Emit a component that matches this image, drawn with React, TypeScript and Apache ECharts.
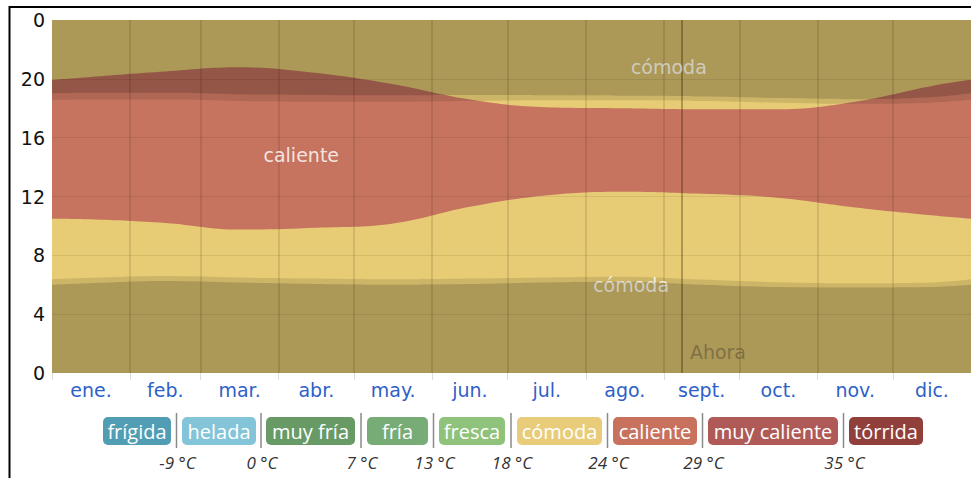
import React, { useEffect, useRef } from 'react';
import * as echarts from 'echarts';

// ---- data ----
const MONTHS = ['ene.', 'feb.', 'mar.', 'abr.', 'may.', 'jun.', 'jul.', 'ago.', 'sept.', 'oct.', 'nov.', 'dic.'];
const MONTH_STARTS = [0, 31, 59, 90, 120, 151, 181, 212, 243, 273, 304, 334, 365];
const MONTH_MIDS = MONTH_STARTS.slice(0, -1).map((s, i) => (s + MONTH_STARTS[i + 1]) / 2);

const DAYS = [0, 15, 45, 74, 105, 135, 166, 196, 227, 258, 288, 319, 349, 365];
// hour at which "cómoda" turns "caliente" in the morning
const HOT_START = [10.49, 10.45, 10.2, 9.75, 9.88, 10.15, 11.3, 12.07, 12.32, 12.18, 11.92, 11.26, 10.73, 10.49];
// hour at which "caliente" turns back to "cómoda" in the evening
const HOT_END = [19.93, 20.13, 20.5, 20.78, 20.4, 19.65, 18.6, 18.07, 18.0, 17.93, 17.93, 18.45, 19.5, 19.93];
// full day is "cómoda" outside the hot hours
const DAY_END = [24, 24, 24, 24, 24, 24, 24, 24, 24, 24, 24, 24, 24, 24];
// twilight / daylight hours
const DAWN = [6.0, 6.1, 6.25, 6.15, 6.05, 6.0, 6.05, 6.15, 6.2, 6.0, 5.85, 5.82, 5.85, 6.0];
const SUNRISE = [6.37, 6.47, 6.6, 6.5, 6.42, 6.37, 6.42, 6.5, 6.55, 6.35, 6.17, 6.1, 6.15, 6.37];
const SUNSET = [18.57, 18.6, 18.6, 18.5, 18.45, 18.45, 18.5, 18.55, 18.55, 18.5, 18.38, 18.3, 18.38, 18.57];
const DUSK = [19.02, 19.05, 19.05, 18.95, 18.9, 18.88, 18.9, 18.88, 18.85, 18.8, 18.7, 18.62, 18.75, 19.02];

const NOW_DAY = 250;

const LEGEND_NAMES = ['frígida', 'helada', 'muy fría', 'fría', 'fresca', 'cómoda', 'caliente', 'muy caliente', 'tórrida'];
const LEGEND_COLORS = ['#519db3', '#83c4d8', '#689a66', '#77ac77', '#8fc27b', '#e8cc79', '#c8725e', '#b05a58', '#913f3b'];
const THRESHOLDS = ['-9 °C', '0 °C', '7 °C', '13 °C', '18 °C', '24 °C', '29 °C', '35 °C'];

// ---- layout / styles ----
const LEGEND_BOXES = [[103, 171], [182, 256], [266, 355], [367, 428], [439, 505], [517, 602], [613, 697], [708, 838], [849, 923]];
const COMODA = '#e7cc75';
const CALIENTE = '#c6745f';
const TWILIGHT = 'rgba(0,0,0,0.11)';
const NIGHT_EXTRA = 'rgba(0,0,0,0.155)'; // stacked over twilight -> ~0.25 total

function area(name: string, values: number[], color: string, origin: 'start' | 'end', z: number) {
  return {
    type: 'line',
    name,
    smooth: 0.4,
    symbol: 'none',
    silent: true,
    z,
    lineStyle: { width: 0 },
    areaStyle: { color, opacity: 1, origin },
    data: DAYS.map((d, i) => [d, values[i]]),
  };
}

export default function App() {
  const ref = useRef<HTMLDivElement>(null);
  useEffect(() => {
    document.body.style.margin = '0';
    const chart = echarts.init(ref.current!, null, { renderer: 'svg' });

    const legendGraphics: any[] = [];
    LEGEND_NAMES.forEach((n, i) => {
      const [x0, x1] = LEGEND_BOXES[i];
      legendGraphics.push({
        type: 'rect',
        shape: { x: x0, y: 417, width: x1 - x0, height: 28, r: 5 },
        style: { fill: LEGEND_COLORS[i] },
      });
      legendGraphics.push({
        type: 'text',
        x: (x0 + x1) / 2,
        y: 431,
        style: {
          text: n,
          fill: '#ffffff',
          font: '20px "Open Sans"',
          align: 'center',
          verticalAlign: 'middle',
        },
      });
    });
    THRESHOLDS.forEach((t, i) => {
      const sx = (LEGEND_BOXES[i][1] + LEGEND_BOXES[i + 1][0]) / 2;
      legendGraphics.push({
        type: 'line',
        shape: { x1: sx, y1: 413, x2: sx, y2: 448 },
        style: { stroke: '#8a8a8a', lineWidth: 1.5 },
      });
      legendGraphics.push({
        type: 'text',
        x: sx + 1,
        y: 462,
        style: {
          text: t,
          fill: '#333333',
          font: 'italic 17px "Open Sans"',
          align: 'center',
          verticalAlign: 'middle',
        },
      });
    });

    const labelFont = 'DejaVu Sans';

    chart.setOption({
      animation: false,
      backgroundColor: '#ffffff',
      grid: { left: 52, right: 0, top: 20, bottom: 105, containLabel: false },
      xAxis: {
        type: 'value',
        min: 0,
        max: 365,
        axisLine: { show: false },
        axisTick: { show: true, customValues: MONTH_STARTS, length: 7, lineStyle: { color: '#dddddd', width: 1 } },
        axisLabel: {
          customValues: MONTH_MIDS,
          formatter: (v: number) => {
            let best = 0;
            MONTH_MIDS.forEach((m, i) => {
              if (Math.abs(m - v) < Math.abs(MONTH_MIDS[best] - v)) best = i;
            });
            return MONTHS[best];
          },
          color: '#2f5fc8',
          fontSize: 19,
          fontFamily: labelFont,
          margin: 7,
        },
        splitLine: { show: false },
      },
      yAxis: {
        type: 'value',
        min: 0,
        max: 24,
        interval: 4,
        z: 9,
        axisLine: { show: false },
        axisTick: { show: false },
        axisLabel: {
          formatter: (v: number) => (v === 24 ? '0' : String(v)),
          color: '#111111',
          fontSize: 19,
          fontFamily: labelFont,
          margin: 7,
        },
        splitLine: {
          show: true,
          showMinLine: false,
          showMaxLine: false,
          lineStyle: { color: 'rgba(0,0,0,0.08)', width: 1 },
        },
      },
      series: [
        area('cómoda', DAY_END, COMODA, 'start', 2),
        area('caliente', HOT_END, CALIENTE, 'start', 3),
        area('cómoda', HOT_START, COMODA, 'start', 4),
        area('crepúsculo mañana', SUNRISE, TWILIGHT, 'start', 5),
        area('noche mañana', DAWN, NIGHT_EXTRA, 'start', 6),
        area('crepúsculo tarde', SUNSET, TWILIGHT, 'end', 5),
        area('noche tarde', DUSK, NIGHT_EXTRA, 'end', 6),
        {
          type: 'line',
          name: 'marcas',
          data: [],
          z: 8,
          silent: true,
          markLine: {
            silent: true,
            symbol: ['none', 'none'],
            label: { show: false },
            lineStyle: { type: 'solid', color: 'rgba(50,35,0,0.17)', width: 1.5 },
            data: [
              ...MONTH_STARTS.slice(1, -1).map((d) => ({ xAxis: d })),
              { xAxis: NOW_DAY, lineStyle: { type: 'solid', color: 'rgba(50,35,0,0.32)', width: 2 } },
            ],
          },
          markPoint: {
            silent: true,
            symbol: 'rect',
            symbolSize: 1,
            itemStyle: { color: 'rgba(0,0,0,0)' },
            label: {
              show: true,
              position: 'inside',
              fontFamily: labelFont,
              fontSize: 19,
              color: 'rgba(255,255,255,0.82)',
            },
            data: [
              { name: 'caliente', coord: [99, 14.8], label: { formatter: 'caliente' } },
              { name: 'cómoda', coord: [245, 20.8], label: { formatter: 'cómoda' } },
              { name: 'cómoda', coord: [230, 6.0], label: { formatter: 'cómoda' } },
              { name: 'Ahora', coord: [264.5, 1.45], label: { formatter: 'Ahora', color: 'rgba(95,85,60,0.5)' } },
            ],
          },
        },
      ],
      graphic: [
        {
          type: 'rect',
          shape: { x: 9.5, y: 7, width: 1000, height: 600 },
          style: { fill: 'none', stroke: '#000000', lineWidth: 2 },
        },
        ...legendGraphics,
      ],
    });
    return () => chart.dispose();
  }, []);
  return <div ref={ref} style={{ width: 971, height: 478 }} />;
}
